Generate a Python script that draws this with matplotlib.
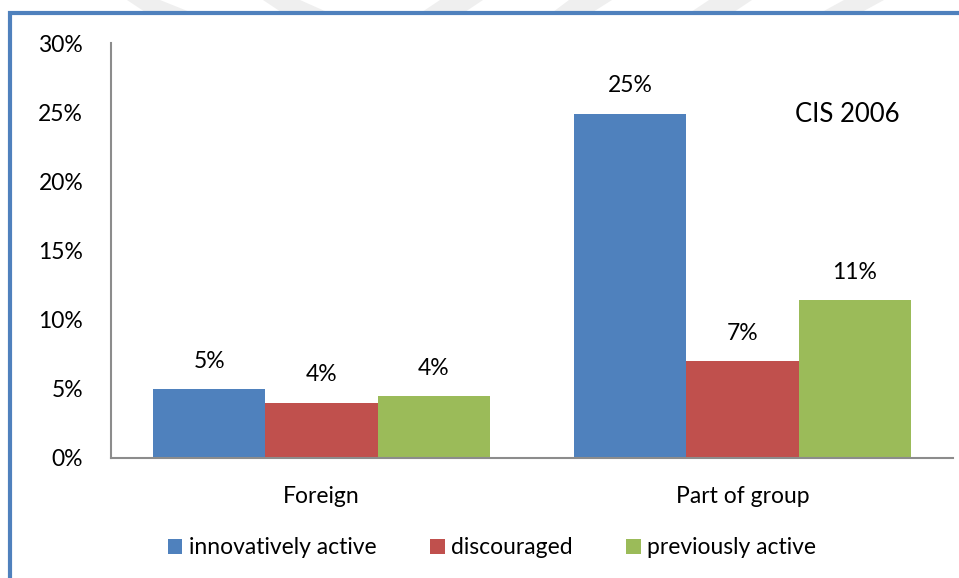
import numpy as np
import matplotlib.pyplot as plt
from matplotlib.patches import Rectangle, Polygon
from matplotlib.ticker import FuncFormatter

plt.rcParams['font.family'] = ['Lato', 'DejaVu Sans']

categories = ["Foreign", "Part of group"]
series_names = ["innovatively active", "discouraged", "previously active"]
innovative = [5.0, 24.9]
discouraged = [4.0, 7.0]
previously = [4.45, 11.4]
colors = ["#4f81bd", "#c0504d", "#9bbb59"]

fs = 16.5
W, H = 959, 578

fig = plt.figure(figsize=(W / 100, H / 100), dpi=100)
ax = fig.add_axes([111 / W, 1 - 458 / H, 842 / W, 415 / H])

x = np.arange(len(categories))
width = 0.8 / 3
for i, (vals, name, col) in enumerate(zip([innovative, discouraged, previously],
                                          series_names, colors)):
    pos = x + (i - 1) * width
    ax.bar(pos, vals, width, color=col, label=name, zorder=2)
    for p, v in zip(pos, vals):
        ax.annotate(f"{v:.0f}%", (p, v), xytext=(0, 20), textcoords="offset points",
                    ha="center", va="center", fontsize=fs)

ax.set_xlim(-0.5, 1.5)
ax.set_ylim(0, 30)
ax.set_yticks(range(0, 31, 5))
ax.yaxis.set_major_formatter(FuncFormatter(lambda v, _: f"{v:.0f}%"))
ax.set_xticks(x)
ax.set_xticklabels(categories)
ax.tick_params(axis="both", length=0, labelsize=fs)
ax.tick_params(axis="y", pad=20)
ax.tick_params(axis="x", pad=20)
for s in ["top", "right"]:
    ax.spines[s].set_visible(False)
for s in ["left", "bottom"]:
    ax.spines[s].set_color("#8c8c8c")
    ax.spines[s].set_linewidth(1.5)

ax.text(1.25, 24.8, "CIS 2006", ha="center", va="center", fontsize=18.5)

ax.legend(loc="center", bbox_to_anchor=(492 / W, 1 - 548 / H),
          bbox_transform=fig.transFigure, ncol=3, frameon=False, fontsize=fs,
          handlelength=0.65, handleheight=0.65, handletextpad=0.3,
          columnspacing=2.3, borderpad=0)

# faint page stripes above the frame (pixel coords: top-left, top-right, bottom-right, bottom-left)
stripes = [
    [(127, 0), (160, 0), (190, 12), (145, 12)],
    [(263, 0), (300, 0), (327, 12), (281, 12)],
    [(440, 0), (483, 0), (465, 12), (422, 12)],
    [(569, 0), (612, 0), (593, 12), (553, 12)],
    [(709, 0), (752, 0), (734, 12), (691, 12)],
    [(844, 0), (884, 0), (862, 12), (822, 12)],
]
for pts in stripes:
    fig.add_artist(Polygon([(px / W, 1 - py / H) for px, py in pts], closed=True,
                           transform=fig.transFigure, facecolor="#efefef",
                           edgecolor="none"))

# blue frame along top and left edge
fig.add_artist(Rectangle((10 / W, -0.1), 1.2, 1 - 13.5 / H + 0.1,
                         transform=fig.transFigure, fill=False,
                         edgecolor="#4f81bd", linewidth=3))

fig.savefig("out.png", dpi=100)
